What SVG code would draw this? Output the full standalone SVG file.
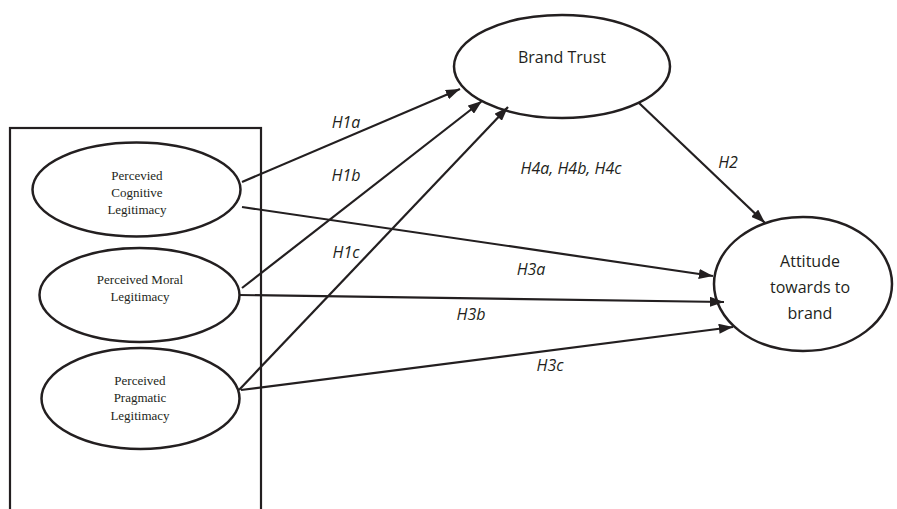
<svg xmlns="http://www.w3.org/2000/svg" width="897" height="509" viewBox="0 0 897 509">
<style>
.n{fill:#fff;stroke:#231f20;stroke-width:2.5}
.c{stroke:#231f20;stroke-width:2.2;fill:none}
.s{font-family:"Liberation Serif",serif;font-size:13px;fill:#231f20;text-anchor:middle}
.b{font-family:"Open Sans","Liberation Sans",sans-serif;font-size:16px;fill:#231f20;text-anchor:middle}
.l{font-family:"Open Sans","Liberation Sans",sans-serif;font-size:16px;font-style:italic;fill:#231f20;text-anchor:middle}
</style>
<defs>
<marker id="a" viewBox="0 0 14 10" refX="14" refY="5" markerWidth="6.5" markerHeight="4.6" orient="auto"><path d="M0,0 L14,5 L0,10 z" fill="#231f20"/></marker>
</defs>
<rect x="10" y="128" width="251" height="400" fill="none" stroke="#231f20" stroke-width="2.2"/>
<g id="cognitive"><ellipse class="n" cx="136.5" cy="189.5" rx="104" ry="47"/>
<text class="s" x="137" y="180">Percevied</text><text class="s" x="137" y="197">Cognitive</text><text class="s" x="137" y="214">Legitimacy</text></g>
<g id="moral"><ellipse class="n" cx="139.5" cy="295" rx="100" ry="47"/>
<text class="s" x="140" y="284">Perceived Moral</text><text class="s" x="140" y="301">Legitimacy</text></g>
<g id="pragmatic"><ellipse class="n" cx="140.5" cy="398.5" rx="99" ry="50.5"/>
<text class="s" x="140" y="385">Perceived</text><text class="s" x="140" y="402">Pragmatic</text><text class="s" x="140" y="420">Legitimacy</text></g>
<g id="trust"><ellipse class="n" cx="562" cy="66.5" rx="108" ry="51.5"/>
<text class="b" x="562" y="63">Brand Trust</text></g>
<g id="attitude"><ellipse class="n" cx="803" cy="284" rx="89" ry="67"/>
<text class="b" x="810" y="267">Attitude</text><text class="b" x="810" y="293">towards to</text><text class="b" x="810" y="319">brand</text></g>
<g id="connectors">
<line class="c" x1="242" y1="182" x2="460" y2="89" marker-end="url(#a)"/>
<line class="c" x1="242" y1="288" x2="482" y2="101" marker-end="url(#a)"/>
<line class="c" x1="239" y1="390" x2="508" y2="107" marker-end="url(#a)"/>
<line class="c" x1="242" y1="207" x2="713" y2="276" marker-end="url(#a)"/>
<line class="c" x1="239" y1="295" x2="724" y2="302" marker-end="url(#a)"/>
<line class="c" x1="241" y1="390" x2="733" y2="327" marker-end="url(#a)"/>
<line class="c" x1="639" y1="103" x2="765" y2="223" marker-end="url(#a)"/>
<text class="l" x="346" y="128">H1a</text>
<text class="l" x="346" y="181">H1b</text>
<text class="l" x="346" y="258">H1c</text>
<text class="l" x="571" y="174">H4a, H4b, H4c</text>
<text class="l" x="728" y="168">H2</text>
<text class="l" x="531" y="275">H3a</text>
<text class="l" x="471" y="320">H3b</text>
<text class="l" x="550" y="371">H3c</text>
</g>
</svg>
